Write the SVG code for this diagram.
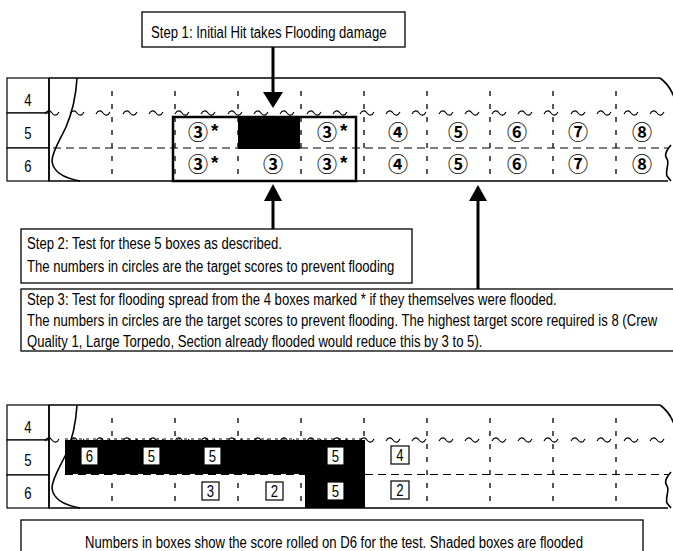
<svg xmlns="http://www.w3.org/2000/svg" xmlns:xlink="http://www.w3.org/1999/xlink" width="673" height="551" viewBox="0 0 673 551">
<style>
.hull{fill:none;stroke:#000;stroke-width:1.6}
.lbl{fill:#fff;stroke:#000;stroke-width:1.2}
.dv{stroke:#000;stroke-width:1.3;stroke-dasharray:5 8}
.dh{stroke:#000;stroke-width:1.2;stroke-dasharray:8 5}
.wave{fill:none;stroke:#000;stroke-width:1.1}
.t{font-family:"Liberation Sans",Arial,sans-serif;font-size:16px;fill:#000}
.m{text-anchor:middle}
.c{font-family:"Noto Sans CJK JP","DejaVu Sans",sans-serif;font-size:20px;font-weight:bold;text-anchor:middle;fill:#000}
.ast{font-family:"Liberation Sans",Arial,sans-serif;font-size:19px;font-weight:bold;fill:#000}
.box{fill:#fff;stroke:#000;stroke-width:1.2}
.note{fill:#fff;stroke:#000;stroke-width:1.3}
.arr{stroke:#000;stroke-width:3}
.head{fill:#000}
.flood{fill:#000}
</style>
<defs>
<path id="tl" class="wave" d="M-7,1 C-5,-3 -2,-3 0,0 S5,3 7,-1"/>
<g id="waves">
<use xlink:href="#tl" x="52"/><use xlink:href="#tl" x="77"/><use xlink:href="#tl" x="103"/><use xlink:href="#tl" x="130"/><use xlink:href="#tl" x="156"/><use xlink:href="#tl" x="182"/><use xlink:href="#tl" x="208"/><use xlink:href="#tl" x="235"/><use xlink:href="#tl" x="261"/><use xlink:href="#tl" x="287"/><use xlink:href="#tl" x="314"/><use xlink:href="#tl" x="340"/><use xlink:href="#tl" x="367"/><use xlink:href="#tl" x="393"/><use xlink:href="#tl" x="419"/><use xlink:href="#tl" x="446"/><use xlink:href="#tl" x="472"/><use xlink:href="#tl" x="499"/><use xlink:href="#tl" x="525"/><use xlink:href="#tl" x="551"/><use xlink:href="#tl" x="578"/><use xlink:href="#tl" x="604"/><use xlink:href="#tl" x="631"/><use xlink:href="#tl" x="657"/>
</g>
<g id="verts">
<line class="dv" x1="112" y1="91" x2="112" y2="181"/>
<line class="dv" x1="175" y1="91" x2="175" y2="181"/>
<line class="dv" x1="238" y1="91" x2="238" y2="181"/>
<line class="dv" x1="301" y1="91" x2="301" y2="181"/>
<line class="dv" x1="364" y1="91" x2="364" y2="181"/>
<line class="dv" x1="427" y1="91" x2="427" y2="181"/>
<line class="dv" x1="490" y1="91" x2="490" y2="181"/>
<line class="dv" x1="553" y1="91" x2="553" y2="181"/>
<line class="dv" x1="616" y1="91" x2="616" y2="181"/>
</g>
<g id="labels">
<rect class="lbl" x="7" y="78" width="42" height="35"/>
<rect class="lbl" x="7" y="113" width="42" height="35"/>
<rect class="lbl" x="7" y="148" width="42" height="33"/>
<text class="t m" transform="translate(28,106) scale(0.82,1)">4</text>
<text class="t m" transform="translate(28,139) scale(0.82,1)">5</text>
<text class="t m" transform="translate(28,172) scale(0.82,1)">6</text>
</g>
<g id="hullshape">
<path class="hull" d="M49,78 H660 M49,78 V181 H668"/>
<path class="hull" d="M77,78 C76,96 72,113 66,127 C59,142 52,152 52,161 C53,171 63,178 80,181"/>
<path class="hull" d="M660,78 C667,83 672,90 675,100"/>
<path class="hull" d="M671,145 C666,151 664,155 667,159 C670,163 665,170 667,176 L671,181"/>
</g>
</defs>

<!-- Top diagram -->
<g id="top-ship">
<use xlink:href="#labels"/>
<use xlink:href="#hullshape"/>
<use xlink:href="#verts"/>
<line class="dh" x1="53" y1="148" x2="668" y2="148"/>
<use xlink:href="#waves" y="113"/>
</g>
<g id="hit-box">
<rect class="flood" x="238" y="117" width="62" height="32"/>
</g>
<g id="test-area">
<rect fill="none" stroke="#000" stroke-width="2.5" x="173" y="117" width="183" height="64"/>
</g>
<g id="targets">
<text class="c" x="198" y="140">③</text><text class="ast" x="211" y="137">*</text>
<text class="c" x="327" y="140">③</text><text class="ast" x="340" y="137">*</text>
<text class="c" x="198" y="172">③</text><text class="ast" x="211" y="169">*</text>
<text class="c" x="273" y="172">③</text>
<text class="c" x="327" y="172">③</text><text class="ast" x="340" y="169">*</text>
<text class="c" x="398" y="140">④</text><text class="c" x="398" y="172">④</text>
<text class="c" x="458" y="140">⑤</text><text class="c" x="458" y="172">⑤</text>
<text class="c" x="517" y="140">⑥</text><text class="c" x="517" y="172">⑥</text>
<text class="c" x="578" y="140">⑦</text><text class="c" x="578" y="172">⑦</text>
<text class="c" x="642" y="140">⑧</text><text class="c" x="642" y="172">⑧</text>
</g>

<g id="step1">
<rect class="note" x="142" y="12" width="263" height="35"/>
<text class="t" transform="translate(151,38) scale(0.82,1)">Step 1: Initial Hit takes Flooding damage</text>
</g>
<g id="step2">
<rect class="note" x="21" y="229" width="391" height="54"/>
<text class="t" transform="translate(27,249) scale(0.82,1)">Step 2: Test for these 5 boxes as described.</text>
<text class="t" transform="translate(27,272) scale(0.82,1)">The numbers in circles are the target scores to prevent flooding</text>
</g>
<g id="step3">
<rect class="note" x="21" y="289" width="660" height="62"/>
<text class="t" transform="translate(27,305) scale(0.82,1)">Step 3: Test for flooding spread from the 4 boxes marked * if they themselves were flooded.</text>
<text class="t" transform="translate(27,326) scale(0.82,1)">The numbers in circles are the target scores to prevent flooding. The highest target score required is 8 (Crew</text>
<text class="t" transform="translate(27,347) scale(0.82,1)">Quality 1, Large Torpedo, Section already flooded would reduce this by 3 to 5).</text>
</g>

<g id="connectors">
<line class="arr" x1="273" y1="47" x2="273" y2="94"/>
<polygon class="head" points="263,92 283,92 273,108"/>
<line class="arr" x1="273" y1="229" x2="273" y2="199"/>
<polygon class="head" points="264,201 282,201 273,184"/>
<line class="arr" x1="478" y1="289" x2="478" y2="199"/>
<polygon class="head" points="469,201 487,201 478,185"/>
</g>

<!-- Bottom diagram -->
<g id="bottom-ship">
<use xlink:href="#labels" y="327"/>
<use xlink:href="#hullshape" y="327"/>
<use xlink:href="#verts" y="327"/>
<line class="dh" x1="365" y1="474.5" x2="668" y2="474.5"/>
<use xlink:href="#waves" y="440"/>
</g>
<g id="flooded">
<rect class="flood" x="65" y="440" width="300" height="34"/>
<rect class="flood" x="305" y="474" width="60" height="34"/>
<line stroke="#000" stroke-width="1" stroke-dasharray="3 4" x1="65" y1="439" x2="365" y2="439"/>
<line class="dh" x1="65" y1="474.5" x2="305" y2="474.5"/>
</g>
<g id="rolls">
<rect class="box" x="81" y="447" width="17" height="18"/><text class="t m" transform="translate(89.5,462) scale(0.82,1)">6</text>
<rect class="box" x="143" y="447" width="17" height="18"/><text class="t m" transform="translate(151.5,462) scale(0.82,1)">5</text>
<rect class="box" x="204" y="447" width="17" height="18"/><text class="t m" transform="translate(212.5,462) scale(0.82,1)">5</text>
<rect class="box" x="327" y="447" width="17" height="18"/><text class="t m" transform="translate(335.5,462) scale(0.82,1)">5</text>
<rect class="box" x="391" y="446" width="18" height="18"/><text class="t m" transform="translate(400,461) scale(0.82,1)">4</text>
<rect class="box" x="202" y="482" width="17" height="18"/><text class="t m" transform="translate(210.5,497) scale(0.82,1)">3</text>
<rect class="box" x="266" y="482" width="17" height="18"/><text class="t m" transform="translate(274.5,497) scale(0.82,1)">2</text>
<rect class="box" x="327" y="482" width="17" height="18"/><text class="t m" transform="translate(335.5,497) scale(0.82,1)">5</text>
<rect class="box" x="391" y="481" width="18" height="18"/><text class="t m" transform="translate(400,496) scale(0.82,1)">2</text>
</g>
<g id="caption">
<rect class="note" x="21" y="520" width="622" height="40"/>
<text class="t m" transform="translate(334,548) scale(0.82,1)">Numbers in boxes show the score rolled on D6 for the test. Shaded boxes are flooded</text>
</g>
</svg>
